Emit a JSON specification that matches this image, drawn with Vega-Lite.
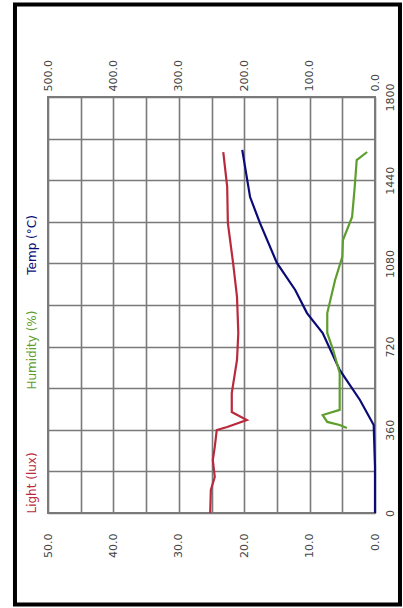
{
  "$schema": "https://vega.github.io/schema/vega-lite/v6.json",
  "width": 327,
  "height": 416,
  "autosize": "none",
  "padding": {"left": 48, "top": 97, "right": 28, "bottom": 95},
  "background": "white",
  "config": {
    "font": "DejaVu Sans",
    "view": {"stroke": "#7a7a7a", "strokeWidth": 2},
    "axis": {"labelFontSize": 11, "labelColor": "#444444", "domain": false, "ticks": false, "gridColor": "#7a7a7a", "gridWidth": 1.6, "gridOpacity": 1, "title": null}
  },
  "datasets": {
    "series": [
      {"t": 0, "v": 0, "s": "T"}, {"t": 200, "v": 0, "s": "T"}, {"t": 381, "v": 0.2, "s": "T"},
      {"t": 489, "v": 2.3, "s": "T"}, {"t": 619, "v": 5.4, "s": "T"}, {"t": 779, "v": 8.0, "s": "T"},
      {"t": 865, "v": 10.4, "s": "T"}, {"t": 965, "v": 12.2, "s": "T"}, {"t": 1082, "v": 15.0, "s": "T"},
      {"t": 1255, "v": 17.6, "s": "T"}, {"t": 1367, "v": 19.1, "s": "T"}, {"t": 1571, "v": 20.3, "s": "T"},
      {"t": 368, "v": 4.3, "s": "RH"}, {"t": 381, "v": 5.4, "s": "RH"}, {"t": 394, "v": 7.3, "s": "RH"},
      {"t": 424, "v": 8.0, "s": "RH"}, {"t": 446, "v": 5.4, "s": "RH"}, {"t": 606, "v": 5.4, "s": "RH"},
      {"t": 705, "v": 6.4, "s": "RH"}, {"t": 779, "v": 7.3, "s": "RH"}, {"t": 865, "v": 7.3, "s": "RH"},
      {"t": 1008, "v": 6.1, "s": "RH"}, {"t": 1108, "v": 5.0, "s": "RH"}, {"t": 1181, "v": 4.9, "s": "RH"},
      {"t": 1281, "v": 3.5, "s": "RH"}, {"t": 1411, "v": 3.1, "s": "RH"}, {"t": 1527, "v": 2.8, "s": "RH"},
      {"t": 1562, "v": 1.2, "s": "RH"}
    ],
    "light": [
      {"t": 0, "v": 252, "s": "Light"}, {"t": 100, "v": 251, "s": "Light"}, {"t": 156, "v": 245, "s": "Light"},
      {"t": 229, "v": 248, "s": "Light"}, {"t": 286, "v": 245, "s": "Light"}, {"t": 359, "v": 242, "s": "Light"},
      {"t": 372, "v": 226, "s": "Light"}, {"t": 402, "v": 196, "s": "Light"}, {"t": 437, "v": 219, "s": "Light"},
      {"t": 519, "v": 219, "s": "Light"}, {"t": 662, "v": 211, "s": "Light"}, {"t": 779, "v": 209, "s": "Light"},
      {"t": 935, "v": 211, "s": "Light"}, {"t": 1082, "v": 217, "s": "Light"}, {"t": 1255, "v": 225, "s": "Light"},
      {"t": 1411, "v": 226, "s": "Light"}, {"t": 1562, "v": 232, "s": "Light"}
    ],
    "legend": [
      {"label": "Temp (°C)", "s": "T", "t": 1160},
      {"label": "Humidity (%)", "s": "RH", "t": 705},
      {"label": "Light (lux)", "s": "Light", "t": 130}
    ]
  },
  "layer": [
    {
      "layer": [
        {
          "data": {"name": "series"},
          "mark": {"type": "line", "strokeWidth": 2.2, "interpolate": "linear"},
          "encoding": {
            "x": {"field": "v", "type": "quantitative",
              "scale": {"domain": [0, 50], "reverse": true, "nice": false, "zero": false},
              "axis": {"orient": "bottom", "values": [0,5,10,15,20,25,30,35,40,45,50], "labelExpr": "datum.value % 10 == 0 ? format(datum.value, '.1f') : ''", "labelAngle": 270, "labelPadding": 20, "grid": true}},
            "y": {"field": "t", "type": "quantitative",
              "scale": {"domain": [0, 1800], "nice": false, "zero": false},
              "axis": {"orient": "right", "values": [0,180,360,540,720,900,1080,1260,1440,1620,1800], "labelExpr": "datum.value % 360 == 0 ? datum.label : ''", "format": "d", "labelAngle": 270, "labelAlign": "center", "labelBaseline": "top", "labelPadding": 9, "grid": true}},
            "color": {"field": "s", "type": "nominal", "scale": {"domain": ["T", "RH", "Light"], "range": ["#0b0b78", "#5e9e2e", "#b82a3c"]}, "legend": null},
            "detail": {"field": "s"},
            "order": {"field": "t", "type": "quantitative"}
          }
        },
        {
          "data": {"values": [{"frame": 1}]},
          "mark": {"type": "rect", "fill": null, "filled": false, "stroke": "#000000", "strokeWidth": 4, "clip": false},
          "encoding": {
            "x": {"datum": 55.05, "type": "quantitative",
              "scale": {"domain": [0, 50], "reverse": true, "nice": false, "zero": false},
              "axis": {"orient": "bottom", "values": [0,5,10,15,20,25,30,35,40,45,50], "labelExpr": "datum.value % 10 == 0 ? format(datum.value, '.1f') : ''", "labelAngle": 270, "labelPadding": 20, "grid": true}},
            "x2": {"datum": -3.82},
            "y": {"datum": 2200, "type": "quantitative",
              "scale": {"domain": [0, 1800], "nice": false, "zero": false},
              "axis": {"orient": "right", "values": [0,180,360,540,720,900,1080,1260,1440,1620,1800], "labelExpr": "datum.value % 360 == 0 ? datum.label : ''", "format": "d", "labelAngle": 270, "labelAlign": "center", "labelBaseline": "top", "labelPadding": 9, "grid": true}},
            "y2": {"datum": -396}
          }
        },
        {
          "data": {"name": "legend"},
          "mark": {"type": "text", "angle": 270, "align": "center", "baseline": "middle", "fontSize": 12, "clip": false},
          "encoding": {
            "x": {"datum": 52.4, "type": "quantitative",
              "scale": {"domain": [0, 50], "reverse": true, "nice": false, "zero": false},
              "axis": {"orient": "bottom", "values": [0,5,10,15,20,25,30,35,40,45,50], "labelExpr": "datum.value % 10 == 0 ? format(datum.value, '.1f') : ''", "labelAngle": 270, "labelPadding": 20, "grid": true}},
            "y": {"field": "t", "type": "quantitative",
              "scale": {"domain": [0, 1800], "nice": false, "zero": false},
              "axis": {"orient": "right", "values": [0,180,360,540,720,900,1080,1260,1440,1620,1800], "labelExpr": "datum.value % 360 == 0 ? datum.label : ''", "format": "d", "labelAngle": 270, "labelAlign": "center", "labelBaseline": "top", "labelPadding": 9, "grid": true}},
            "text": {"field": "label"},
            "color": {"field": "s", "type": "nominal", "legend": null}
          }
        }
      ]
    },
    {
      "data": {"name": "light"},
      "mark": {"type": "line", "strokeWidth": 2.2},
      "encoding": {
        "x": {"field": "v", "type": "quantitative",
          "scale": {"domain": [0, 500], "reverse": true, "nice": false, "zero": false},
          "axis": {"orient": "top", "values": [0,50,100,150,200,250,300,350,400,450,500], "labelExpr": "datum.value % 100 == 0 ? format(datum.value, '.1f') : ''", "labelAngle": 270, "labelPadding": 6, "grid": false}},
        "y": {"field": "t", "type": "quantitative",
          "scale": {"domain": [0, 1800], "nice": false, "zero": false},
          "axis": {"orient": "right", "values": [0,180,360,540,720,900,1080,1260,1440,1620,1800], "labelExpr": "datum.value % 360 == 0 ? datum.label : ''", "format": "d", "labelAngle": 270, "labelAlign": "center", "labelBaseline": "top", "labelPadding": 9, "grid": true}},
        "color": {"field": "s", "type": "nominal", "legend": null},
        "order": {"field": "t", "type": "quantitative"}
      }
    }
  ],
  "resolve": {"scale": {"x": "independent"}}
}
